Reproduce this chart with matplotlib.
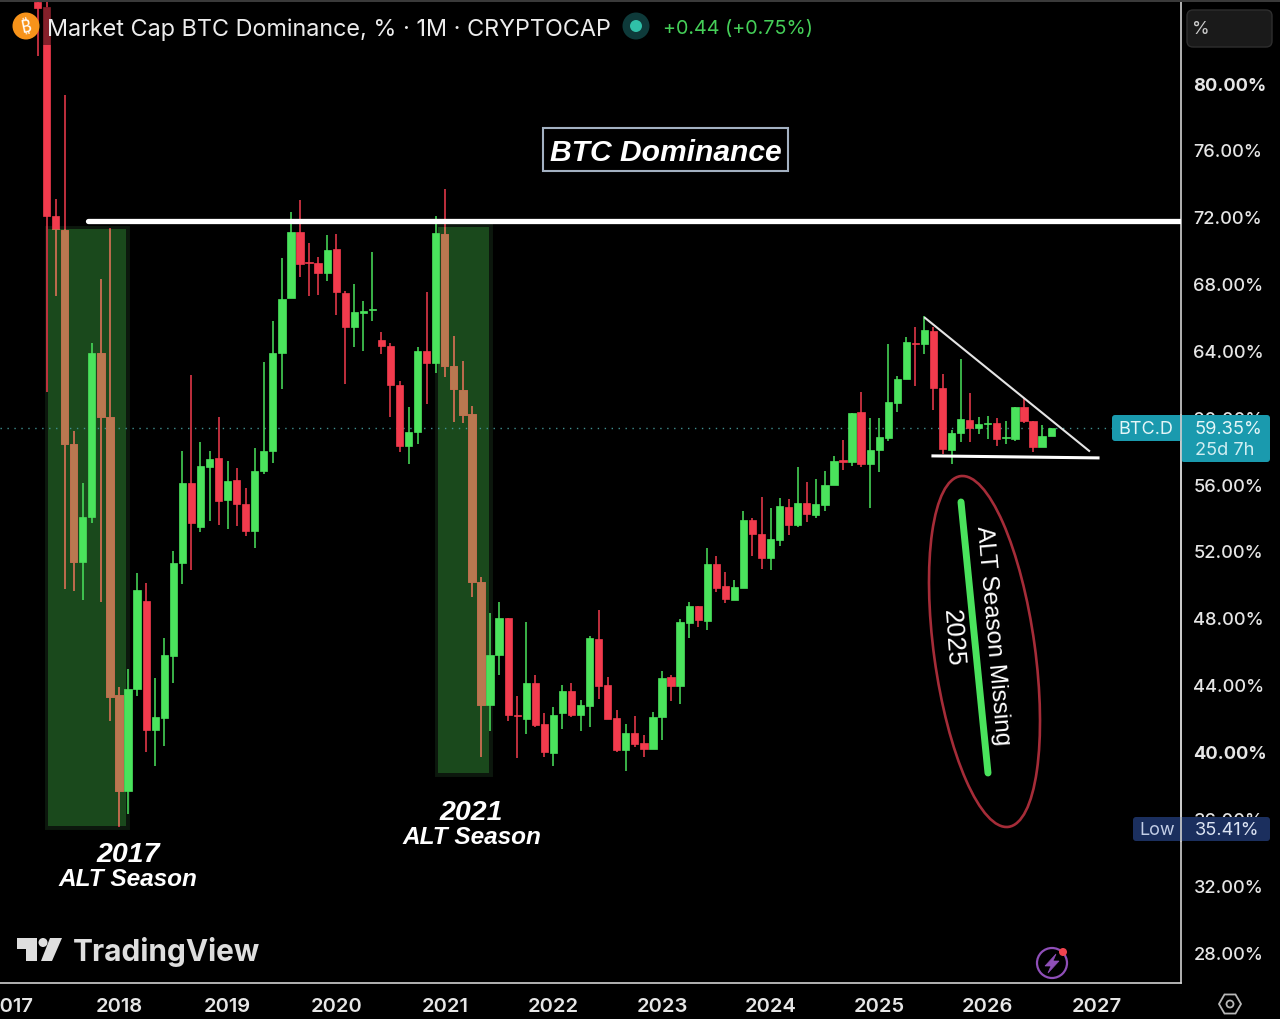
import numpy as np
import matplotlib
matplotlib.use("Agg")
import matplotlib.pyplot as plt
from matplotlib.patches import Rectangle, Circle, Ellipse, FancyBboxPatch, Polygon, RegularPolygon

plt.rcParams['font.family'] = ['Inter', 'DejaVu Sans']

# monthly candles, month 0 = Jan 2018
months = np.arange(-9, 104)
opens = [84.85, 84.55, 72.04, 71.21, 58.40, 51.34, 54.03, 63.85, 60.02,
         43.38, 37.64, 43.74, 49.01, 41.29, 42.00, 45.71, 51.28, 56.07, 53.43, 57.02, 57.56, 55.05,
         56.25, 54.81, 53.20, 56.79, 57.98, 63.85, 67.14, 71.09, 69.29, 69.23, 68.63, 70.07,
         67.44, 65.40, 66.24, 66.42, 64.62, 64.27, 61.93, 58.28, 59.12, 63.97, 63.25, 70.97,
         63.07, 61.63, 60.20, 50.14, 42.78, 45.77, 48.01, 42.18, 41.95, 44.10, 41.65, 39.91,
         42.30, 43.62, 42.18, 42.72, 46.73, 43.98, 42.00, 40.09, 41.11, 40.51, 40.15, 42.06,
         44.46, 43.92, 47.69, 48.71, 47.81, 51.22, 49.90, 49.07, 49.78, 53.85, 53.01, 51.58,
         52.66, 54.63, 53.56, 54.87, 54.15, 54.75, 55.95, 57.44, 57.32, 60.32, 57.20, 58.04,
         58.76, 60.85, 62.29, 64.44, 64.38, 65.16, 61.75, 58.04, 59.06, 59.84, 59.36, 59.60,
         59.66, 58.76, 58.70, 60.61, 59.78, 58.22, 58.88]
closes = [84.49, 72.04, 71.27, 58.40, 51.34, 54.03, 63.85, 60.02, 43.26,
          37.64, 43.74, 49.66, 41.29, 42.06, 45.77, 51.28, 56.07, 53.67, 57.08, 57.50, 54.99, 56.19,
          54.81, 53.20, 56.79, 57.98, 63.85, 67.08, 71.09, 69.17, 69.23, 68.63, 70.01, 67.50,
          65.40, 66.30, 66.36, 66.48, 64.27, 61.93, 58.28, 59.12, 63.97, 63.25, 71.03, 63.07,
          61.69, 60.14, 50.14, 42.78, 45.77, 48.01, 42.18, 42.12, 44.10, 41.59, 39.97, 42.18,
          43.62, 42.18, 42.78, 46.79, 43.92, 41.95, 40.09, 41.11, 40.45, 40.15, 42.06, 44.40,
          43.92, 47.75, 48.71, 47.87, 51.22, 49.78, 49.13, 49.84, 53.85, 53.01, 51.58, 52.72,
          54.69, 53.56, 54.87, 54.21, 54.81, 55.95, 57.38, 57.32, 60.26, 57.20, 58.04, 58.82,
          60.91, 62.29, 64.50, 64.38, 65.22, 61.75, 58.10, 59.06, 59.90, 59.36, 59.60, 59.66,
          58.70, 58.82, 60.61, 59.78, 58.22, 58.88, 59.36]
highs = [84.85, 84.85, 73.06, 79.29, 59.18, 56.07, 64.45, 68.27, 71.33,
         43.86, 44.94, 50.68, 50.08, 44.40, 46.79, 52.00, 57.98, 62.53, 58.52, 57.98, 60.02, 57.38,
         56.96, 55.77, 58.16, 63.31, 65.76, 69.53, 72.28, 73.00, 70.43, 69.59, 70.91, 70.97,
         67.56, 67.98, 66.96, 69.89, 65.10, 64.45, 62.17, 60.61, 64.21, 67.50, 72.04, 73.66,
         64.86, 63.37, 60.67, 50.44, 48.29, 48.95, 48.01, 43.32, 47.75, 44.58, 42.30, 42.66,
         43.98, 44.10, 43.08, 46.91, 48.47, 44.46, 42.48, 41.65, 42.12, 40.99, 42.36, 44.82,
         44.58, 47.93, 48.95, 48.71, 52.18, 51.70, 50.74, 50.26, 54.39, 53.97, 55.23, 54.57,
         55.17, 55.11, 57.02, 56.13, 56.31, 56.79, 57.68, 58.64, 60.26, 61.51, 59.96, 59.96,
         64.39, 62.47, 64.80, 65.40, 66.06, 65.40, 62.59, 59.24, 63.49, 61.45, 60.02, 60.08,
         59.96, 59.78, 60.61, 61.15, 59.78, 59.54, 59.36]
lows = [81.62, 61.51, 67.26, 49.72, 49.60, 49.07, 53.67, 48.95, 41.83,
        35.48, 36.26, 43.32, 39.97, 39.13, 40.33, 44.10, 50.02, 50.86, 53.13, 53.79, 53.55, 53.31,
        53.49, 52.90, 52.18, 56.61, 57.26, 61.69, 67.14, 68.39, 67.26, 67.32, 68.15, 66.12,
        61.99, 64.21, 63.97, 65.76, 63.79, 60.02, 57.92, 57.20, 58.40, 60.79, 62.65, 62.41,
        59.72, 59.66, 49.25, 39.67, 41.23, 44.58, 41.83, 39.61, 41.05, 41.47, 39.67, 39.13,
        41.35, 42.06, 41.23, 41.47, 43.14, 41.95, 39.97, 38.83, 40.27, 39.67, 40.15, 40.69,
        43.02, 42.84, 46.79, 47.45, 47.27, 49.54, 48.89, 49.07, 49.78, 51.70, 50.92, 50.86,
        52.30, 52.96, 53.43, 53.73, 53.97, 54.39, 55.95, 56.85, 57.08, 57.02, 54.57, 56.73,
        58.58, 60.32, 62.29, 61.87, 63.79, 60.44, 57.80, 57.20, 58.52, 58.52, 59.00, 58.70,
        58.28, 58.40, 58.58, 59.66, 57.92, 58.22, 58.88]

price_ticks = [80, 76, 72, 68, 64, 60, 56, 52, 48, 44, 40, 36, 32, 28]
year_ticks = [-12, 0, 12, 24, 36, 48, 60, 72, 84, 96, 108]
year_labels = ['2017', '2018', '2019', '2020', '2021', '2022', '2023', '2024', '2025', '2026', '2027']
last_price = 59.35
resistance = 71.75

GREEN = '#4ae35c'
RED = '#f23b4d'
ORANGE = '#b97850'
SEASON = '#1a491c'
W, H = 1280, 1020

fig = plt.figure(figsize=(W / 100, H / 100), dpi=100, facecolor='black')
ax = fig.add_axes([0, (H - 984) / H, 1181 / W, 981 / H], facecolor='black')
ax.set_xlim(-13.15, 117.35)
ax.set_ylim(26.15, 84.85)

# shaded alt seasons, dark rim drawn first so it only shows outside the fill
season1 = Rectangle((-7.85, 35.54), 8.62, 35.73, facecolor=SEASON, lw=0, zorder=1)
season2 = Rectangle((35.25, 38.71), 5.63, 32.68, facecolor=SEASON, lw=0, zorder=1)
for season in (season1, season2):
    ax.add_patch(Rectangle(season.get_xy(), season.get_width(), season.get_height(),
                           facecolor='none', edgecolor='#0c170d', lw=5, zorder=0.9))
    ax.add_patch(season)

ax.axhline(last_price, color='#3f8f8f', lw=1, ls=(0, (1, 4)), zorder=2)

opens = np.array(opens)
closes = np.array(closes)
highs = np.array(highs)
lows = np.array(lows)
up = closes >= opens
colors = np.where(up, GREEN, RED)

ax.vlines(months, lows, highs, colors=colors, lw=1.1, zorder=3)
ax.bar(months, np.abs(closes - opens), bottom=np.minimum(opens, closes), width=0.8,
       color=colors, edgecolor=colors, lw=0.5, zorder=3)

# red candles read as orange under the shading
for season in (season1, season2):
    w = ax.vlines(months[~up], lows[~up], highs[~up], colors=ORANGE, lw=1.1, zorder=4)
    w.set_clip_path(season)
    bars = ax.bar(months[~up], np.abs(closes - opens)[~up], bottom=closes[~up], width=0.8,
                  color=ORANGE, edgecolor=ORANGE, lw=0.5, zorder=4)
    for b in bars:
        b.set_clip_path(season)

ax.plot([-3.43, 117.35], [resistance, resistance], color='white', lw=3.8, zorder=5,
        solid_capstyle='round')
ax.plot([89.06, 107.2], [65.95, 57.99], color='#e4e4e4', lw=1.5, zorder=5)
ax.plot([89.94, 108.18], [57.69, 57.57], color='white', lw=2.2, zorder=5)

for s in ('left', 'top'):
    ax.spines[s].set_visible(False)
for s in ('right', 'bottom'):
    ax.spines[s].set_color('#d0d0d0')
    ax.spines[s].set_linewidth(1.2)

ax.yaxis.tick_right()
ax.set_yticks(price_ticks)
ax.set_yticklabels(['%.2f%%' % p for p in price_ticks], fontsize=13.1, color='#e6e6e6', fontweight='medium')
for lab, p in zip(ax.get_yticklabels(), price_ticks):
    if p in (80, 40):
        lab.set_fontweight('bold')
ax.set_xticks(year_ticks)
ax.set_xticklabels(year_labels, fontsize=14.5, color='#e6e6e6', fontweight='semibold')
ax.tick_params(axis='both', length=0)
ax.tick_params(axis='y', pad=9)
ax.tick_params(axis='x', pad=10)

# everything else sits on a pixel overlay
ov = fig.add_axes([0, 0, 1, 1], zorder=5)
ov.set_xlim(0, W)
ov.set_ylim(H, 0)
ov.axis('off')

ov.add_patch(Rectangle((0, 0), W, 3, color='#3a3a3a', lw=0))
ov.add_patch(Rectangle((41.5, 8), 9, 38, color='black', alpha=0.45, lw=0))

# header
ov.add_patch(Circle((26, 27), 13.5, color='#f7931a', lw=0))
ov.text(26, 27.5, '₿', color='white', fontsize=13, ha='center', va='center', fontweight='bold',
        family=['Noto Sans', 'Roboto', 'Open Sans', 'Lato', 'Liberation Sans', 'DejaVu Sans'], rotation=12)
ov.text(47, 29.5, 'Market Cap BTC Dominance, % · 1M · CRYPTOCAP', color='#ececec', fontsize=16.85,
        ha='left', va='center')
ov.add_patch(Circle((636, 27), 13.5, color='#0e3a3a', lw=0))
ov.add_patch(Circle((636, 27), 6, color='#30c0a8', lw=0))
ov.text(663, 29, '+0.44 (+0.75%)', color='#45cf58', fontsize=14.2, ha='left', va='center')

# % button
ov.add_patch(FancyBboxPatch((1187, 11), 85, 37, boxstyle='round,pad=0,rounding_size=6',
                            facecolor='#1a1a1a', edgecolor='#2e2e2e', lw=1))
ov.text(1201, 30, '%', color='#cccccc', fontsize=13, ha='center', va='center')

# title box
ov.add_patch(Rectangle((543, 129), 245, 43, facecolor='black', edgecolor='#a3b1c2', lw=1.5))
ov.text(665.5, 153, 'BTC Dominance', color='white', fontsize=21.6, ha='center', va='center',
        fontweight='bold', style='italic', family='Liberation Sans')

for x, y, txt, size in [(128, 855, '2017', 20.5), (128, 880, 'ALT Season', 17.6),
                        (471, 813, '2021', 20.5), (472, 838, 'ALT Season', 17.6)]:
    ov.text(x, y, txt, color='white', fontsize=size, ha='center', va='center', fontweight='bold',
            style='italic', family='Liberation Sans')

# missing alt season note
ov.add_patch(Ellipse((984.5, 652.5), 101, 354, angle=-7.8, facecolor='none', edgecolor='#a52c38', lw=1.9))
ov.plot([961, 988], [503, 774], color=GREEN, lw=5, solid_capstyle='round')
ov.text(993, 636, 'ALT Season Missing', color='white', fontsize=17.5, rotation=-85, ha='center', va='center',
        rotation_mode='anchor', family='Liberation Sans')
ov.text(953, 638.5, '2025', color='white', fontsize=18.5, rotation=-86, ha='center', va='center',
        rotation_mode='anchor', family='Liberation Sans')

# price tags
ov.add_patch(FancyBboxPatch((1112, 416), 75, 26, boxstyle='round,pad=0,rounding_size=3', color='#1a9aae', lw=0))
ov.add_patch(FancyBboxPatch((1181, 416), 89, 47, boxstyle='round,pad=0,rounding_size=3', color='#1a9aae', lw=0))
ov.text(1146, 430, 'BTC.D', color='#e4f6f8', fontsize=13, ha='center', va='center')
ov.text(1195, 430, '59.35%', color='#e4f6f8', fontsize=13.1, ha='left', va='center')
ov.text(1195, 451, '25d 7h', color='#d0eef2', fontsize=13.1, ha='left', va='center')

ov.add_patch(FancyBboxPatch((1133, 818), 54, 24, boxstyle='round,pad=0,rounding_size=3', color='#1b2f5e', lw=0))
ov.add_patch(FancyBboxPatch((1181, 818), 89, 24, boxstyle='round,pad=0,rounding_size=3', color='#1b2f5e', lw=0))
ov.text(1157, 831, 'Low', color='#c3cee6', fontsize=13, ha='center', va='center')
ov.text(1195, 831, '35.41%', color='#dbe3f2', fontsize=13.1, ha='left', va='center')
ov.plot([1181, 1181], [416, 842], color='#d0d0d0', lw=1.2)

# TradingView logo
logo = '#dedede'
ov.add_patch(Polygon([(17, 939), (37, 939), (37, 962), (26, 962), (26, 950), (17, 950)], color=logo, lw=0))
ov.add_patch(Circle((43, 943.5), 4.5, color=logo, lw=0))
ov.add_patch(Polygon([(50, 939), (62, 939), (52, 962), (41, 962)], color=logo, lw=0))
ov.text(73, 952, 'TradingView', color=logo, fontsize=21.5, ha='left', va='center', fontweight='bold')

# bolt and settings icons
ov.add_patch(Circle((1052, 964), 15, facecolor='black', edgecolor='#8f4fb8', lw=1.6))
ov.add_patch(Polygon([(1056, 955), (1045, 967), (1051, 967), (1048, 974), (1059, 962), (1053, 962)],
                     facecolor='#8f4fb8', edgecolor='#8f4fb8', lw=0.5))
ov.add_patch(Circle((1063, 953), 4, color='#f0444f', lw=0))
ov.add_patch(RegularPolygon((1230, 1005), 6, radius=11, orientation=np.pi / 2, facecolor='none',
                            edgecolor='#b8b8b8', lw=1.3))
ov.add_patch(Circle((1230, 1005), 3.5, facecolor='none', edgecolor='#b8b8b8', lw=1.3))

fig.savefig('out.png', dpi=100, facecolor='black')
